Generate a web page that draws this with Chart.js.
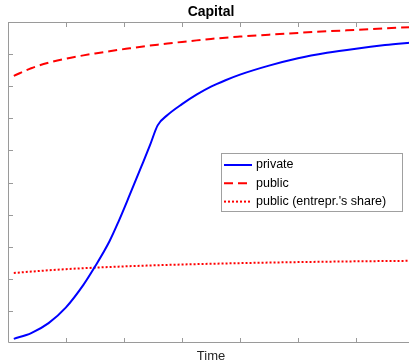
<!DOCTYPE html>
<html>
<head>
<meta charset="utf-8">
<script src="https://cdn.jsdelivr.net/npm/chart.js@4"></script>
<style>
  html, body { margin: 0; padding: 0; background: #fff; overflow: hidden; }
  canvas { display: block; }
</style>
</head>
<body>
<canvas id="myChart" width="416" height="363"></canvas>
<script>
// data (time axis 0..70, value axis 0..10)
const times = [1, 4, 7, 10, 13, 15, 17.5, 19, 21, 23, 24.5, 25.8, 27.5, 30, 32.5, 35, 37.5, 40, 45, 50, 55, 60, 65, 70];
const privateK = [0.13, 0.31, 0.62, 1.11, 1.81, 2.38, 3.17, 3.76, 4.62, 5.50, 6.17, 6.78, 7.10, 7.44, 7.735, 7.985, 8.185, 8.36, 8.64, 8.87, 9.04, 9.17, 9.28, 9.37];
const publicK = [8.32, 8.56, 8.73, 8.86, 8.96, 9.02, 9.09, 9.13, 9.18, 9.23, 9.265, 9.294, 9.33, 9.38, 9.4275, 9.4725, 9.5125, 9.545, 9.605, 9.66, 9.71, 9.755, 9.80, 9.845];
const shareK = [2.18, 2.225, 2.265, 2.30, 2.33, 2.348, 2.368, 2.379, 2.393, 2.406, 2.415, 2.423, 2.432, 2.445, 2.457, 2.468, 2.478, 2.488, 2.505, 2.52, 2.533, 2.544, 2.553, 2.561];
const xTicks = [10, 20, 30, 40, 50, 60];
const yTicks = [1, 2, 3, 4, 5, 6, 7, 8, 9];

const pts = vals => vals.map((v, i) => ({ x: times[i], y: v }));

const data = {
    datasets: [
        { label: 'private', data: pts(privateK), borderColor: '#0000ff', borderWidth: 2, cubicInterpolationMode: 'monotone' },
        { label: 'public', data: pts(publicK), borderColor: '#ff0000', borderWidth: 2, borderDash: [9, 5], cubicInterpolationMode: 'monotone' },
        { label: "public (entrepr.'s share)", data: pts(shareK), borderColor: '#ff0000', borderWidth: 2, borderDash: [2, 2], cubicInterpolationMode: 'monotone' }
    ]
};

// frame, inward ticks, title, axis label and legend box
const decor = {
    id: 'decor',
    afterDraw(chart) {
        const ctx = chart.ctx;
        const a = chart.chartArea;
        const xs = chart.scales.x, ys = chart.scales.y;
        ctx.save();
        ctx.strokeStyle = '#9a9a9a';
        ctx.lineWidth = 1;
        ctx.beginPath();
        ctx.moveTo(a.left + 0.5, a.top + 0.5);
        ctx.lineTo(a.left + 0.5, a.bottom - 0.5);
        ctx.lineTo(a.right, a.bottom - 0.5);
        ctx.moveTo(a.left, a.top + 0.5);
        ctx.lineTo(a.right, a.top + 0.5);
        xTicks.forEach(t => {
            const px = Math.round(xs.getPixelForValue(t)) + 0.5;
            ctx.moveTo(px, a.bottom); ctx.lineTo(px, a.bottom - 5);
            ctx.moveTo(px, a.top); ctx.lineTo(px, a.top + 5);
        });
        yTicks.forEach(t => {
            const py = Math.round(ys.getPixelForValue(t)) + 0.5;
            ctx.moveTo(a.left, py); ctx.lineTo(a.left + 5, py);
        });
        ctx.stroke();

        const cx = (a.left + a.right) / 2;
        ctx.fillStyle = '#000';
        ctx.textAlign = 'center';
        ctx.textBaseline = 'middle';
        ctx.font = 'bold 14px "Liberation Sans", Arial, sans-serif';
        ctx.fillText('Capital', cx, 12);
        ctx.fillStyle = '#262626';
        ctx.font = '13px "Liberation Sans", Arial, sans-serif';
        ctx.fillText('Time', cx, 356);

        // legend
        const lx = 221, ly = 153, lw = 181, lh = 58;
        ctx.fillStyle = '#fff';
        ctx.fillRect(lx, ly, lw, lh);
        ctx.strokeStyle = '#a0a0a0';
        ctx.strokeRect(lx + 0.5, ly + 0.5, lw, lh);
        ctx.font = '12.5px "Liberation Sans", Arial, sans-serif';
        ctx.textAlign = 'left';
        chart.data.datasets.forEach((ds, i) => {
            const y = 165 + i * 18.3;
            ctx.strokeStyle = ds.borderColor;
            ctx.lineWidth = 2;
            ctx.setLineDash(ds.borderDash || []);
            ctx.beginPath();
            ctx.moveTo(224, y); ctx.lineTo(252, y);
            ctx.stroke();
            ctx.setLineDash([]);
            ctx.fillStyle = '#000';
            ctx.fillText(ds.label, 256, y);
        });
        ctx.restore();
    }
};

const config = {
    type: 'line',
    data,
    options: {
        responsive: false,
        animation: false,
        layout: { padding: { left: 8, top: 22, right: 2, bottom: 20 } },
        elements: { point: { radius: 0 } },
        plugins: { legend: { display: false }, title: { display: false }, tooltip: { enabled: false } },
        scales: {
            x: { type: 'linear', min: 0, max: 70, display: false },
            y: { min: 0, max: 10, display: false }
        }
    },
    plugins: [decor]
};

const myChart = new Chart(document.getElementById('myChart'), config);
</script>
</body>
</html>
